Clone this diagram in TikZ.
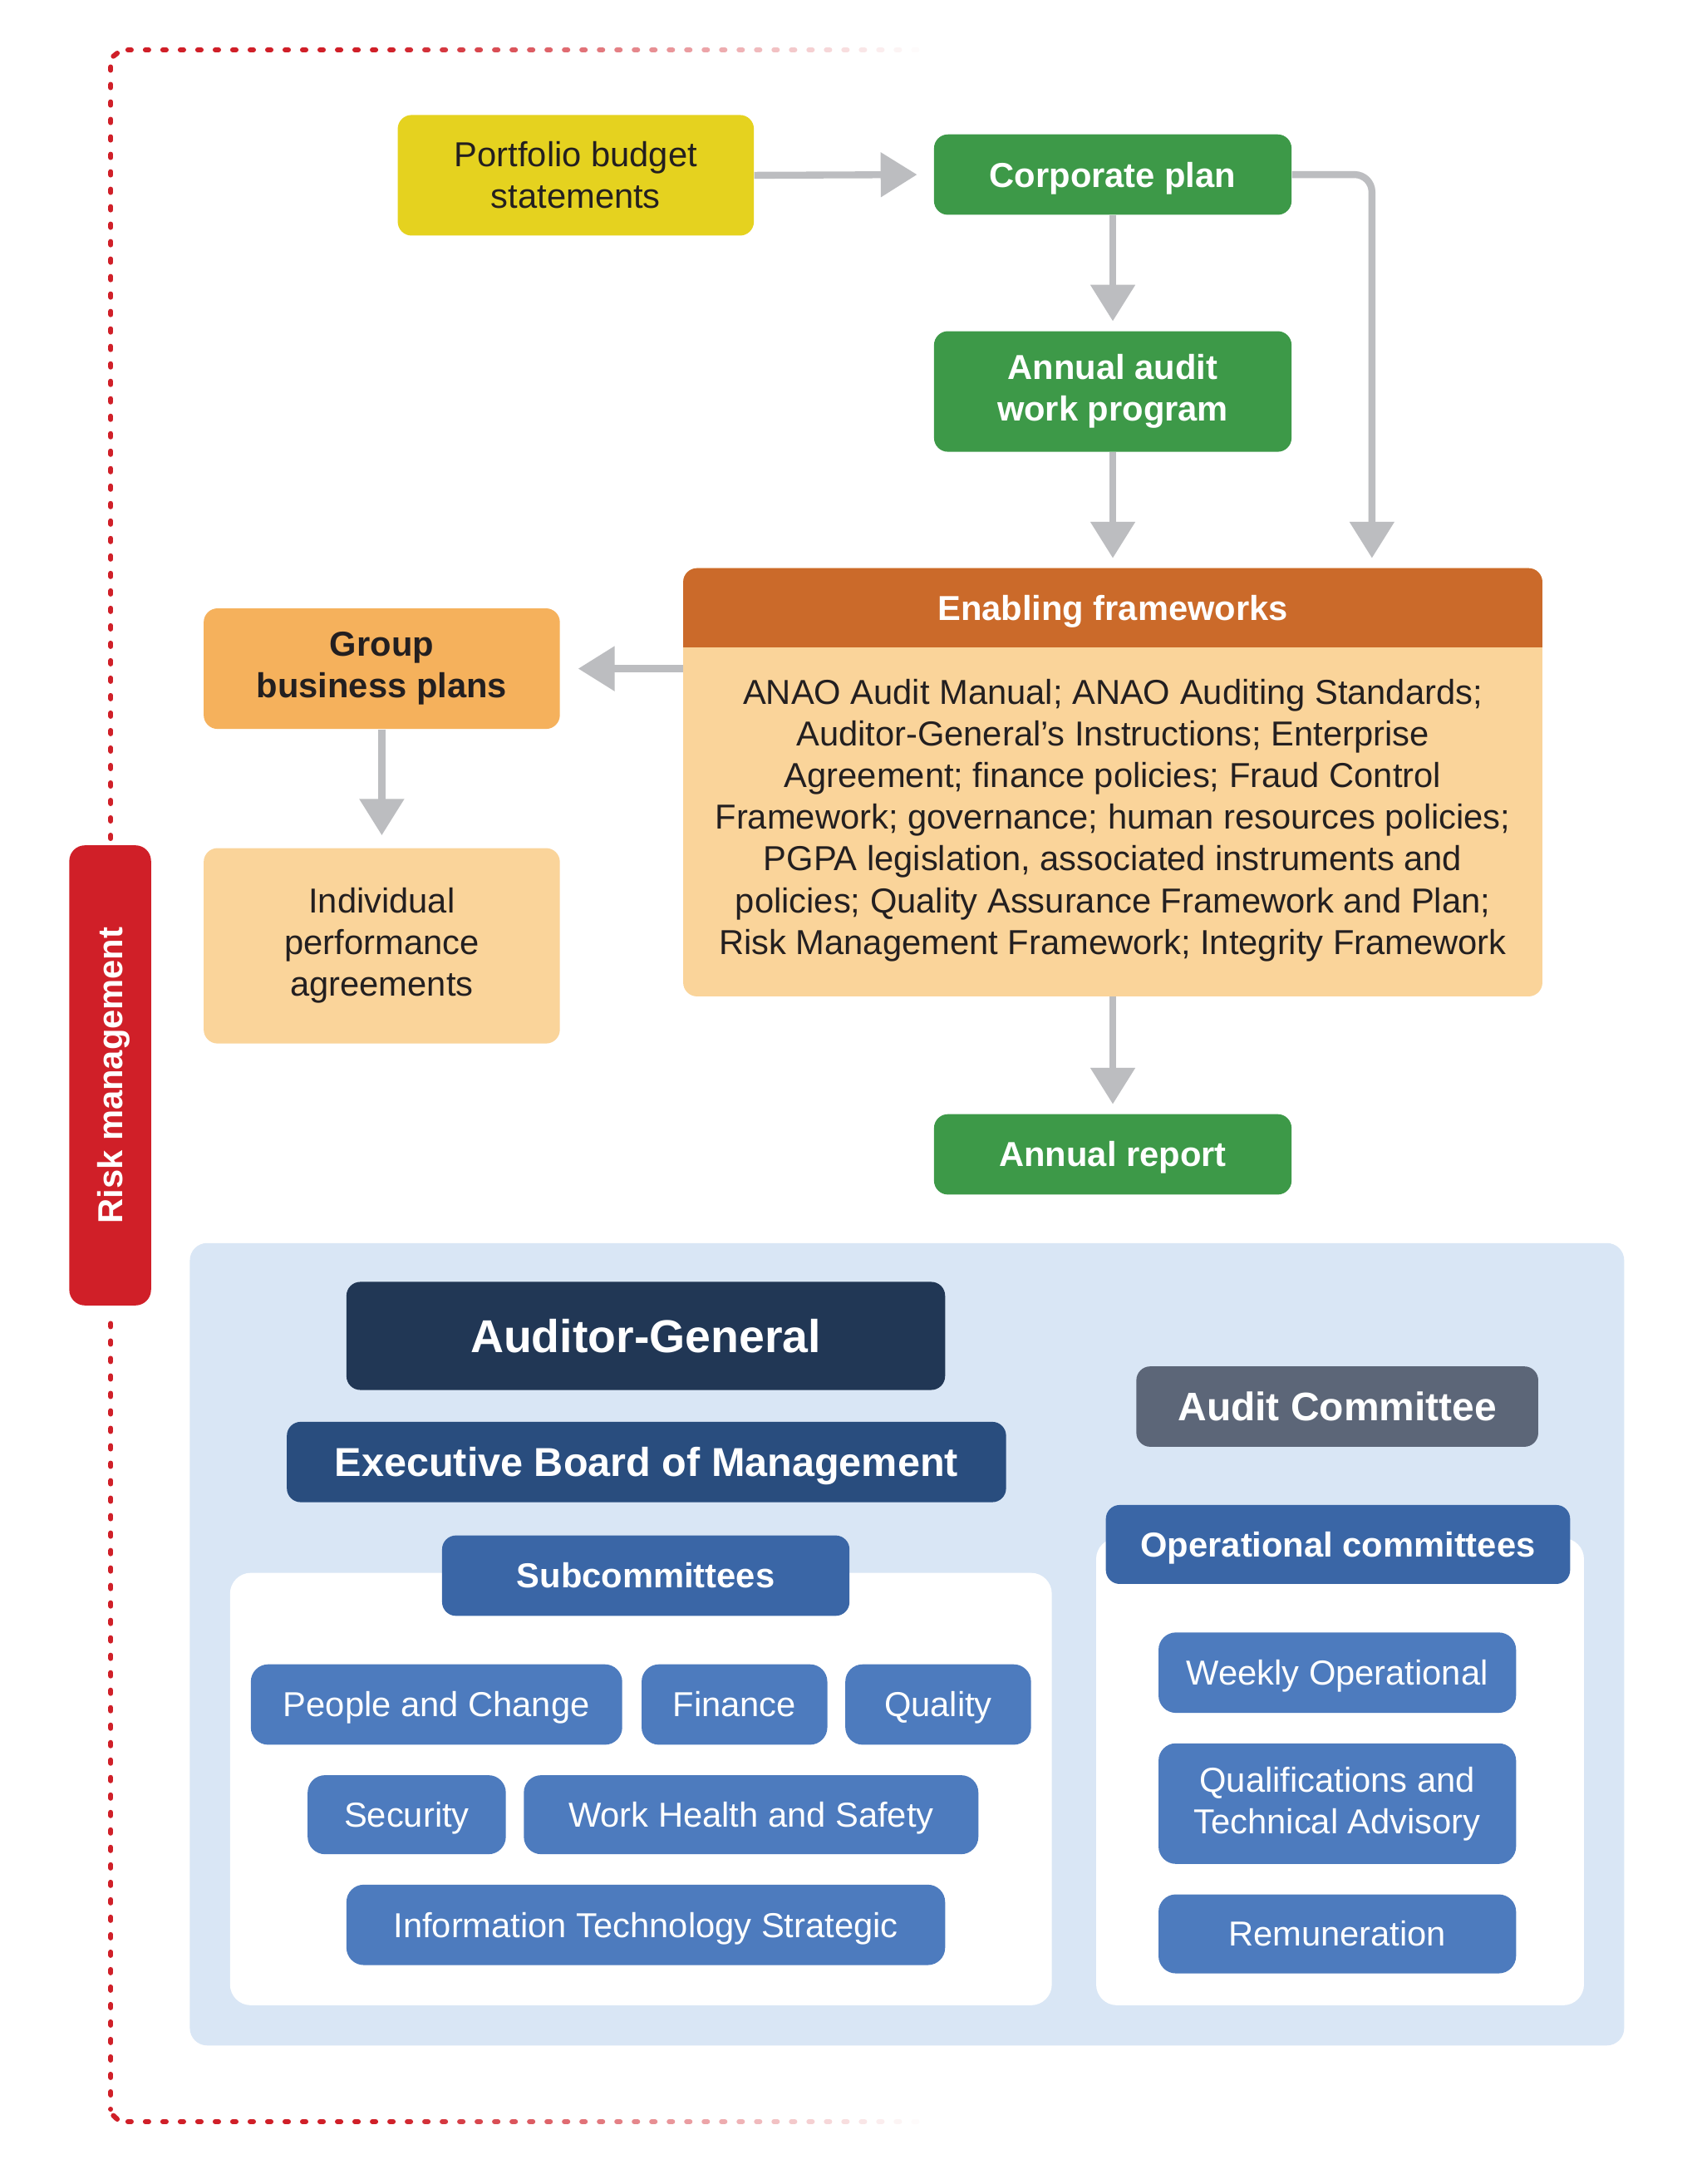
\documentclass[tikz,border=0pt]{standalone}
\usepackage{fontspec}
\setmainfont{Liberation Sans}
\usetikzlibrary{arrows.meta}
\definecolor{pbsyellow}{HTML}{E5D21F}
\definecolor{cgreen}{HTML}{3D9948}
\definecolor{efhead}{HTML}{CB6A2A}
\definecolor{eflight}{HTML}{FAD49A}
\definecolor{gbporange}{HTML}{F5B15C}
\definecolor{arrgray}{HTML}{BCBDC0}
\definecolor{riskred}{HTML}{D01F28}
\definecolor{panelblue}{HTML}{D9E6F5}
\definecolor{agnavy}{HTML}{213755}
\definecolor{ebmblue}{HTML}{294D7E}
\definecolor{subblue}{HTML}{3A66A6}
\definecolor{smallblue}{HTML}{4D7BBE}
\definecolor{acgray}{HTML}{5C6678}
\definecolor{darktext}{HTML}{231F20}
\tikzset{
  basebox/.style={rounded corners=8pt, inner sep=0pt, align=center,
    font=\fontsize{20}{24}\selectfont},
  oneline/.style={text height=14.3pt, text depth=0pt},
  greenbox/.style={basebox, fill=cgreen, text=white, font=\bfseries\fontsize{20}{24}\selectfont},
  smallbox/.style={basebox, fill=smallblue, text=white, rounded corners=10pt},
  arr/.style={draw=arrgray, line width=4pt, -{Triangle[width=25pt,length=21pt]}},
  riskdash/.style={draw=riskred, line width=2.9pt, line cap=round},
}
\begin{document}
\begin{tikzpicture}[x=0.8pt,y=-0.8pt]
\useasboundingbox (0,0) rectangle (1224,1576);
\fill[white] (0,0) rectangle (1224,1576);

% dotted risk line
\draw[riskdash, dash pattern=on 1.9pt off 8.18pt] (80,48.3) -- (80,606);
\draw[riskdash, dash pattern=on 1.9pt off 8.18pt] (80,955) -- (80,1522);
\draw[riskdash] (81.8,40.6) -- (84.6,38.4);
\draw[riskdash] (81.8,1526.6) -- (84.6,1529.2);
\foreach \i in {0,...,45} {
  \pgfmathsetmacro\xx{92.3+12.6*\i}
  \pgfmathsetmacro\op{max(0,min(1,(665-\xx)/390))}
  \draw[riskdash, draw opacity=\op] (\xx,36) -- +(2.4,0);
  \draw[riskdash, draw opacity=\op] (\xx,1531) -- +(2.4,0);
}
\node[basebox, fill=riskred, text=white, rounded corners=9pt, minimum width=47.2pt, minimum height=265.6pt] (risk) at (79.5,776) {};
\node[rotate=90, text=white, inner sep=0pt, oneline, font=\bfseries\fontsize{20}{24}\selectfont] (risklbl) at (risk.center) {Risk management};

% top flow
\node[basebox, fill=pbsyellow, text=darktext, minimum width=205.6pt, minimum height=69.6pt] (pbs) at (415.5,126.5) {Portfolio budget\\statements};
\node[greenbox, oneline, minimum width=206.4pt, minimum height=46.4pt] (corp) at (803,126) {Corporate plan};
\node[greenbox, minimum width=206.4pt, minimum height=69.6pt] (aawp) at (803,282.5) {Annual audit\\work program};

% enabling frameworks
\node[basebox, fill=eflight, minimum width=496pt, minimum height=247.2pt] (ef) at (803,564.5) {};
\fill[efhead, rounded corners=8pt] (493,410) rectangle (1113,477);
\fill[eflight] (493,467) rectangle (1113,480);
\node[text=white, inner sep=0pt, oneline, font=\bfseries\fontsize{20}{24}\selectfont] (efh) at (803,438.5) {Enabling frameworks};
\node[text=darktext, align=center, font=\fontsize{20}{24}\selectfont] (efb) at (803,592) {ANAO Audit Manual; ANAO Auditing Standards;\\Auditor-General’s Instructions; Enterprise\\Agreement; finance policies; Fraud Control\\Framework; governance; human resources policies;\\PGPA legislation, associated instruments and\\policies; Quality Assurance Framework and Plan;\\Risk Management Framework; Integrity Framework};

\node[basebox, fill=gbporange, text=darktext, font=\bfseries\fontsize{20}{24}\selectfont, minimum width=205.6pt, minimum height=69.6pt] (gbp) at (275.5,482.5) {Group\\business plans};
\node[basebox, fill=eflight, text=darktext, minimum width=205.6pt, minimum height=112.8pt] (ipa) at (275.5,682.5) {Individual\\performance\\agreements};
\node[greenbox, oneline, minimum width=206.4pt, minimum height=46.4pt] (ar) at (803,833) {Annual report};

% arrows
\draw[arr] (pbs.east) -- ([xshift=-9.6pt]corp.west);
\draw[arr] (corp.south) -- ([yshift=5.6pt]aawp.north);
\draw[arr] (aawp.south) -- ([yshift=5.6pt]ef.north);
\draw[arr, rounded corners=10pt] (corp.east) -| ([xshift=149.6pt,yshift=5.6pt]ef.north);
\draw[arr] (ef.west |- gbp.east) -- ([xshift=10.4pt]gbp.east);
\draw[arr] (gbp.south) -- ([yshift=7.2pt]ipa.north);
\draw[arr] (ef.south) -- ([yshift=5.6pt]ar.north);

% governance panel
\fill[panelblue, rounded corners=10pt] (137,897) rectangle (1172,1476);
\fill[white, rounded corners=12pt] (166,1135) rectangle (759,1447);
\fill[white, rounded corners=12pt] (791,1110) rectangle (1143,1447);

\node[basebox, fill=agnavy, text=white, text height=19pt, text depth=0pt, font=\bfseries\fontsize{26.6}{30}\selectfont, minimum width=345.6pt, minimum height=62.4pt] (ag) at (466,964) {Auditor-General};
\node[basebox, fill=ebmblue, text=white, text height=16.7pt, text depth=0pt, font=\bfseries\fontsize{23.3}{28}\selectfont, minimum width=415.2pt, minimum height=46.4pt] (ebm) at (466.5,1055) {Executive Board of Management};
\node[basebox, oneline, fill=subblue, text=white, font=\bfseries\fontsize{20}{24}\selectfont, minimum width=235.2pt, minimum height=46.4pt] (sub) at (466,1137) {Subcommittees};

\node[smallbox, oneline, minimum width=214.4pt, minimum height=46.4pt] (pc) at (315,1230) {People and Change};
\node[smallbox, oneline, minimum width=107.2pt, minimum height=46.4pt] (fin) at (530,1230) {Finance};
\node[smallbox, oneline, minimum width=107.2pt, minimum height=46.4pt] (qual) at (677,1230) {Quality};
\node[smallbox, oneline, minimum width=114.4pt, minimum height=45.6pt] (sec) at (293.5,1309.5) {Security};
\node[smallbox, oneline, minimum width=262.4pt, minimum height=45.6pt] (whs) at (542,1309.5) {Work Health and Safety};
\node[smallbox, oneline, minimum width=345.6pt, minimum height=46.4pt] (its) at (466,1389) {Information Technology Strategic};

\node[basebox, fill=acgray, text=white, text height=16.5pt, text depth=0pt, font=\bfseries\fontsize{23}{28}\selectfont, minimum width=232pt, minimum height=46.4pt] (ac) at (965,1015) {Audit Committee};
\node[basebox, oneline, fill=subblue, text=white, font=\bfseries\fontsize{20}{24}\selectfont, minimum width=268pt, minimum height=45.6pt] (oc) at (965.5,1114.5) {Operational committees};
\node[smallbox, oneline, minimum width=206.4pt, minimum height=46.4pt] (wo) at (965,1207) {Weekly Operational};
\node[smallbox, minimum width=206.4pt, minimum height=69.6pt] (qta) at (965,1301.5) {Qualifications and\\Technical Advisory};
\node[smallbox, oneline, minimum width=206.4pt, minimum height=45.6pt] (rem) at (965,1395.5) {Remuneration};
\end{tikzpicture}
\end{document}
